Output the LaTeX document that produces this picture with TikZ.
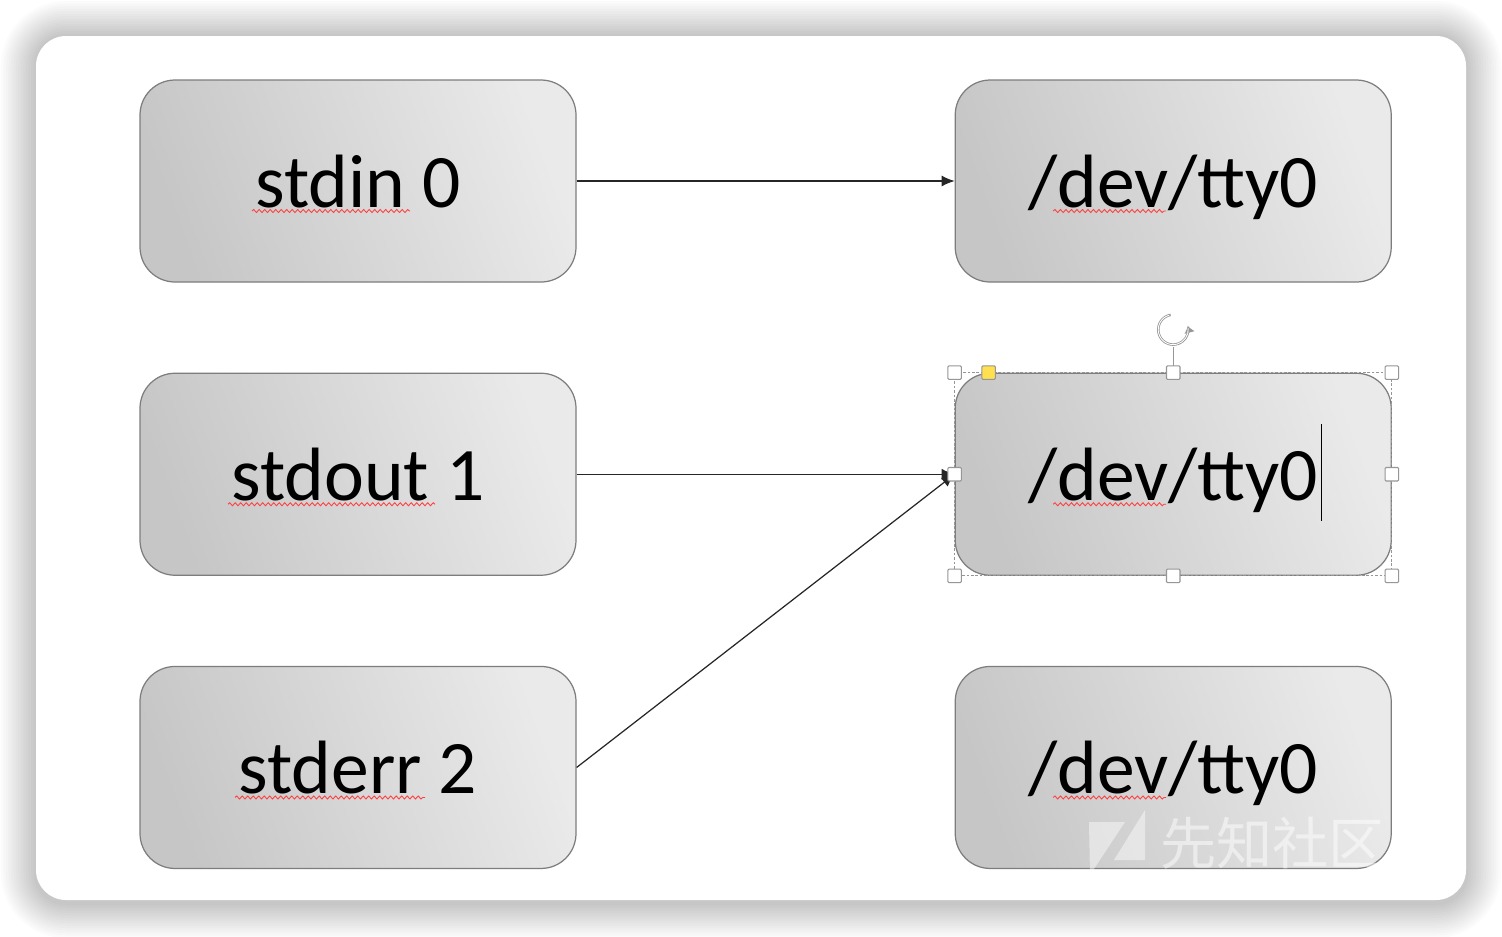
\documentclass[tikz,border=0pt]{standalone}
\usepackage{fontspec}
\setmainfont{Carlito}
\newfontfamily\cjkfont{Noto Sans CJK SC}
\usepackage{tikz}
\usetikzlibrary{arrows.meta,positioning,decorations.pathmorphing}
\definecolor{boxdark}{RGB}{198,198,198}
\definecolor{boxlight}{RGB}{234,234,234}
\definecolor{boxline}{RGB}{125,125,125}
\definecolor{handleline}{RGB}{150,150,150}
\definecolor{adjyellow}{RGB}{255,224,80}

\begin{document}
\begin{tikzpicture}[
  node distance=1.8cm and 7.56cm,
  box/.style={draw=boxline, line width=0.7pt, rounded corners=0.7cm, minimum width=8.72cm, minimum height=4.04cm, text height=1.04cm, text depth=0pt, left color=boxdark, right color=boxlight, shading angle=110, font=\fontsize{43}{50}\selectfont},
  arr/.style={-{Latex[length=2.6mm,width=2.2mm]}, line width=0.7pt, draw=black!85},
  typo/.style={draw=red!75, line width=0.5pt, decorate, decoration={snake, amplitude=0.3mm, segment length=1.1mm}},
  handle/.style={draw=handleline, fill=white, line width=0.6pt, rounded corners=0.6pt, minimum size=0.27cm, inner sep=0pt}
]
\useasboundingbox (0,0) rectangle (30.04,-18.72);
\fill[white] (0,0) rectangle (30.04,-18.72);
% soft shadow and card
\foreach \i [evaluate=\i as \r using 0.6+0.05*\i, evaluate=\i as \d using 0.05*\i] in {1,...,14}
  \fill[black, opacity=0.014, rounded corners=\r cm] (0.72-\d,-0.72+\d) rectangle (29.32+\d,-18.0-\d-0.06);
\fill[white, rounded corners=0.6cm] (0.72,-0.72) rectangle (29.32,-18.0);

\node[box] (stdin) at (7.16,-3.62) {stdin 0};
\node[box, below=of stdin] (stdout) {stdout 1};
\node[box, below=of stdout] (stderr) {stderr 2};
\node[box, right=of stdin] (ttyA) {/dev/tty0};
\node[box, right=of stdout] (ttyB) {/dev/tty0};
\node[box, right=of stderr] (ttyC) {/dev/tty0};

\draw[arr] (stdin) -- (ttyA);
\draw[arr] (stdout) -- (ttyB.west);
\draw[arr] (stderr.east) -- (ttyB.west);

% spelling marks
\draw[typo] ([xshift=-2.12cm,yshift=-0.6cm]stdin.center) -- ([xshift=1.04cm,yshift=-0.6cm]stdin.center);
\draw[typo] ([xshift=-2.6cm,yshift=-0.6cm]stdout.center) -- ([xshift=1.54cm,yshift=-0.6cm]stdout.center);
\draw[typo] ([xshift=-2.46cm,yshift=-0.6cm]stderr.center) -- ([xshift=1.34cm,yshift=-0.6cm]stderr.center);
\foreach \t in {ttyA,ttyB,ttyC}
  \draw[typo] ([xshift=-2.4cm,yshift=-0.6cm]\t.center) -- ([xshift=-0.14cm,yshift=-0.6cm]\t.center);

% selection of the middle box
\draw[handleline, dashed, line width=0.5pt, dash pattern=on 1.5pt off 1pt] (ttyB.north west) rectangle (ttyB.south east);
\coordinate (rot) at ([yshift=0.86cm]ttyB.north);
\draw[handleline, line width=0.7pt] ([yshift=-0.34cm]rot) -- (ttyB.north);
\draw[handleline, line width=1.4pt, -{Latex[length=1.4mm,width=2.2mm]}] ([shift={(100:0.3cm)}]rot) arc (100:375:0.3cm);
\draw[white, line width=0.5pt] ([shift={(105:0.3cm)}]rot) arc (105:365:0.3cm);
\foreach \a in {north west,north,north east,east,south east,south,south west,west}
  \node[handle] (h-\a) at (ttyB.\a) {};
\node[handle, fill=adjyellow] (adj) at ([xshift=0.68cm]ttyB.north west) {};
\coordinate (caret) at ([xshift=2.96cm,yshift=1cm]ttyB.center);
\draw[black, line width=0.6pt] (caret) -- ++(0,-1.94cm);

% watermark
\fill[white, opacity=0.45] (21.78,-16.44) -- (22.5,-16.44) -- (21.8,-17.5) -- cycle;
\fill[white, opacity=0.45] (22.9,-16.2) -- (22.9,-17.2) -- (22.28,-17.2) -- cycle;
\node[text=white, opacity=0.5, font=\cjkfont\fontsize{32}{32}\selectfont] (mark) at (25.45,-16.86) {先知社区};
\end{tikzpicture}
\end{document}
